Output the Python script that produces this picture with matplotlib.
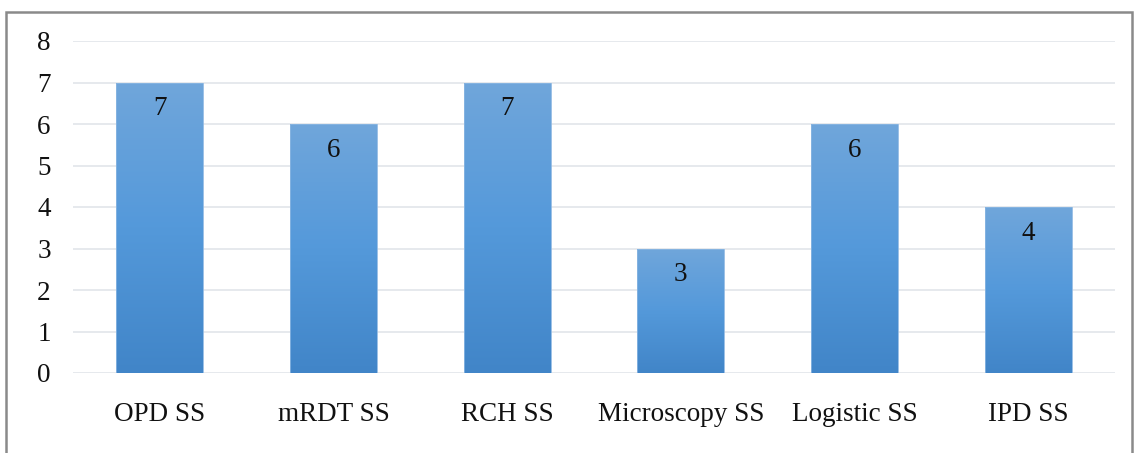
import numpy as np
import matplotlib.pyplot as plt
from matplotlib.colors import LinearSegmentedColormap
from matplotlib.patches import Rectangle

categories = ["OPD SS", "mRDT SS", "RCH SS", "Microscopy SS", "Logistic SS", "IPD SS"]
values = [7, 6, 7, 3, 6, 4]
y_ticks = [0, 1, 2, 3, 4, 5, 6, 7, 8]

plt.rcParams['font.family'] = ['Liberation Serif', 'DejaVu Serif']

fig = plt.figure(figsize=(11.35, 4.53), dpi=100)
ax = fig.add_axes([73 / 1135, 80 / 453, 1042 / 1135, 332 / 453])

# rahmen um die grafik
fig.patches.append(Rectangle((6 / 1135, -0.1), 1126 / 1135, 1.1 - 12 / 453,
                             transform=fig.transFigure, fill=False,
                             edgecolor="#8a8a8a", linewidth=1.8))

x = np.arange(len(categories))
bars = ax.bar(x, values, width=0.5, color="none", edgecolor="#8ab6e2", linewidth=0.6, zorder=3)

cmap = LinearSegmentedColormap.from_list("blues", ["#4185c8", "#5499da", "#70a6db"])
grad = np.linspace(0, 1, 256).reshape(-1, 1)
for b in bars:
    x0, w, h = b.get_x(), b.get_width(), b.get_height()
    im = ax.imshow(grad, extent=(x0, x0 + w, 0, h), origin="lower", cmap=cmap,
                   aspect="auto", zorder=2)
    im.set_clip_path(b)

for xi, v in zip(x, values):
    ax.annotate(str(v), (xi, v), xytext=(0, -19), textcoords="offset points",
                ha="center", va="center", fontsize=19.5, color="#111111", zorder=4)

ax.set_xlim(-0.5, len(categories) - 0.5)
ax.set_ylim(0, 8)
ax.set_yticks(y_ticks)
ax.set_xticks(x)
ax.set_xticklabels(categories)
ax.tick_params(axis="both", length=0, labelsize=19.5, colors="#111111")
ax.tick_params(axis="y", pad=16)
ax.tick_params(axis="x", pad=21)
ax.grid(axis="y", color="#e2e5ea", linewidth=1.2, zorder=0)
ax.set_axisbelow(True)
for s in ax.spines.values():
    s.set_visible(False)

fig.savefig("out.png", dpi=100)
